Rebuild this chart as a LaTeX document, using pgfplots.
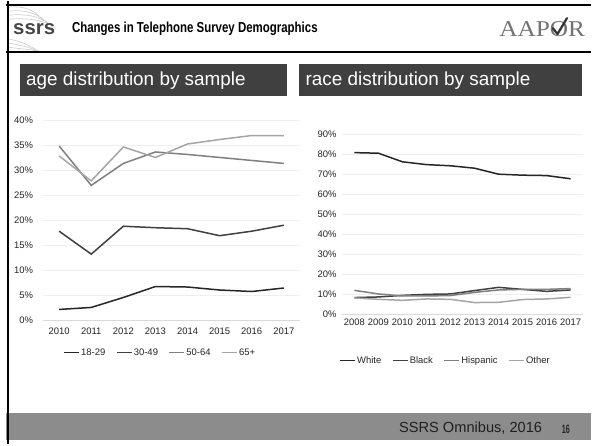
\documentclass[border=0pt]{standalone}
\usepackage{pgfplots}
\pgfplotsset{compat=1.18}
\usepackage{fontspec}
\setmainfont{Liberation Sans}
\newfontfamily\seriffont{Liberation Serif}
\definecolor{c1}{HTML}{262626}
\definecolor{c2}{HTML}{404040}
\definecolor{c3}{HTML}{7F7F7F}
\definecolor{c4}{HTML}{A5A5A5}
\definecolor{gridc}{HTML}{EFEFEF}
\definecolor{axisc}{HTML}{D9D9D9}
\definecolor{boxc}{HTML}{404040}
\definecolor{footc}{HTML}{8C8C8C}
\pgfplotsset{
  slidechart/.style={
    scale only axis,
    anchor=south west,
    axis x line*=bottom,
    axis y line*=left,
    x axis line style={draw=axisc, line width=0.8bp},
    y axis line style={draw=none},
    ymajorgrids,
    major grid style={draw=gridc, line width=0.8bp},
    major tick length=0pt,
    tick style={draw=none},
    tick label style={font=\fontsize{9.5}{10}\selectfont, text=black!85},
    /pgf/number format/assume math mode=true,
    /pgf/number format/1000 sep={},
    xticklabel style={inner sep=0pt, anchor=north},
    yticklabel style={inner sep=0pt, anchor=east},
    yticklabel={\pgfmathprintnumber{\tick}\%},
    every axis plot/.append style={line width=1.5bp, mark=none},
    legend style={draw=none, fill=none, legend columns=4, anchor=center,
      font=\fontsize{9.5}{10}\selectfont, text=black!85,
      nodes={inner sep=1.5bp},
      /tikz/every even column/.append style={column sep=9bp}},
    legend image code/.code={\draw[#1] (0bp,0bp) -- (15bp,0bp);},
  }
}
\begin{document}
\begin{tikzpicture}
\begin{scope}[x=1bp,y=-1bp]
\path[fill=white] (0,0) rectangle (592,444);
% swirl of the logo
\foreach \a in {0,4,8,12}{
  \draw[black!18, line width=0.7bp] (9,{6+\a}) .. controls ({25+\a},{4+\a}) and ({36+\a},{10+\a}) .. ({44+\a},{20+\a*0.6});
}
\foreach \a in {0,4,8}{
  \draw[black!18, line width=0.7bp] (9,{38+\a}) .. controls (20,{40+\a}) and (30,{44+\a*0.5}) .. (38,{50});
}
% header lines
\draw[black, line width=1.8bp] (6,4.2) -- (592,4.2);
\draw[black, line width=2.2bp] (6,51.2) -- (592,51.2);
% footer
\fill[footc] (6,413) rectangle (592,439.5);
\draw[black, line width=2.4bp] (7.8,0) -- (7.8,444);
% header texts
\node[anchor=base west, inner sep=0, text=black!72] at (13,33.3) {\resizebox{42bp}{11bp}{\bfseries ssrs}};
\node[anchor=base west, inner sep=0, text=black] at (72,31.7) {\resizebox{246bp}{10.5bp}{\bfseries Changes in Telephone Survey Demographics}};
\node[anchor=base west, inner sep=0, text=black!55] at (500,35) {\resizebox{86bp}{15bp}{\seriffont AAPOR}};
\draw[black!80, line width=2.2bp, line cap=round, line join=round] (554,27) -- (558.5,33) -- (568,17);
% section boxes
\fill[boxc] (20,63) rectangle (288,95);
\node[anchor=base west, inner sep=0, text=white] at (26,84.5) {\fontsize{19}{19}\selectfont age distribution by sample};
\fill[boxc] (300,63) rectangle (583,95);
\node[anchor=base west, inner sep=0, text=white] at (306,84.5) {\fontsize{19}{19}\selectfont race distribution by sample};
% footer texts
\node[anchor=base east, inner sep=0, text=black!88] at (543.3,431.7) {\fontsize{14.7}{15}\selectfont SSRS Omnibus, 2016};
\node[anchor=base west, inner sep=0, text=black!85] at (562.7,432.7) {\resizebox{8bp}{8.5bp}{\bfseries 16}};
\end{scope}

% ---------- age chart ----------
\begin{axis}[slidechart,
  at={(43.2bp,-319.3bp)},
  width=257.2bp, height=199.7bp,
  xmin=2009.5, xmax=2017.5, ymin=0, ymax=40,
  xtick={2010,...,2017}, ytick={0,5,...,40},
  xticklabel style={yshift=-7.5bp},
  yticklabel style={xshift=-10bp},
  legend style={at={(0.455,-0.164)}},
]
\addplot[c1] coordinates {(2010,2.1) (2011,2.5) (2012,4.5) (2013,6.7) (2014,6.6) (2015,6.0) (2016,5.7) (2017,6.4)};
\addlegendentry{18-29}
\addplot[c2] coordinates {(2010,17.8) (2011,13.2) (2012,18.8) (2013,18.5) (2014,18.3) (2015,16.9) (2016,17.8) (2017,19.0)};
\addlegendentry{30-49}
\addplot[c3] coordinates {(2010,34.9) (2011,27.0) (2012,31.4) (2013,33.7) (2014,33.2) (2015,32.6) (2016,32.0) (2017,31.4)};
\addlegendentry{50-64}
\addplot[c4] coordinates {(2010,32.9) (2011,27.9) (2012,34.7) (2013,32.6) (2014,35.3) (2015,36.2) (2016,37.0) (2017,37.0)};
\addlegendentry{65+}
\end{axis}

% ---------- race chart ----------
\begin{axis}[slidechart,
  at={(343bp,-313.3bp)},
  width=240.7bp, height=180bp,
  xmin=2007.5, xmax=2017.5, ymin=0, ymax=90,
  xtick={2008,...,2017}, ytick={0,10,...,90},
  xticklabel style={yshift=-5bp},
  yticklabel style={xshift=-5.7bp},
  legend style={at={(0.428,-0.26)}},
]
\addplot[c1] coordinates {(2008,80.8) (2009,80.5) (2010,76.2) (2011,74.8) (2012,74.2) (2013,73.0) (2014,70.0) (2015,69.5) (2016,69.3) (2017,67.7)};
\addlegendentry{White}
\addplot[c2] coordinates {(2008,8.2) (2009,8.5) (2010,9.3) (2011,9.8) (2012,10.0) (2013,11.7) (2014,13.3) (2015,12.3) (2016,11.3) (2017,12.0)};
\addlegendentry{Black}
\addplot[c3] coordinates {(2008,11.8) (2009,10.0) (2010,9.0) (2011,9.0) (2012,9.2) (2013,10.8) (2014,12.0) (2015,12.3) (2016,12.3) (2017,12.7)};
\addlegendentry{Hispanic}
\addplot[c4] coordinates {(2008,8.0) (2009,7.3) (2010,6.8) (2011,7.5) (2012,7.3) (2013,5.7) (2014,5.8) (2015,7.2) (2016,7.5) (2017,8.3)};
\addlegendentry{Other}
\end{axis}
\end{tikzpicture}
\end{document}
